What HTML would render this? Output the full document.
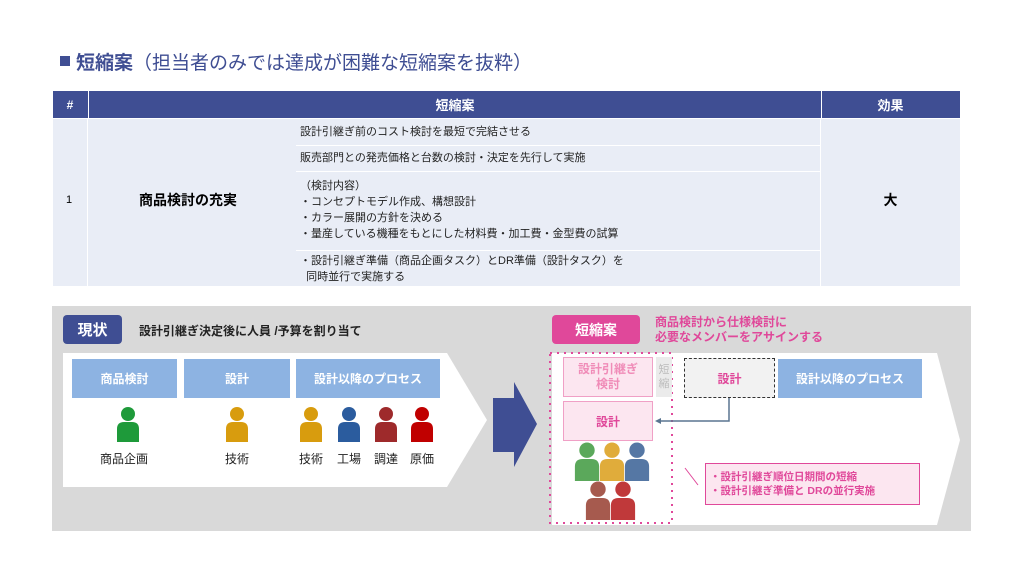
<!DOCTYPE html>
<html><head><meta charset="utf-8"><style>
body{margin:0;width:1024px;height:576px;background:#fff;position:relative;overflow:hidden;font-family:"Liberation Sans","Noto Sans CJK JP",sans-serif;}
.a{position:absolute;}
.c{display:flex;align-items:center;justify-content:center;text-align:center;}
.blue{background:#8DB3E2;color:#fff;font-weight:bold;font-size:12px;}
.lbl{font-size:12px;color:#222;}
.row{position:absolute;left:300px;font-size:11px;color:#222;line-height:16px;}
</style></head><body>
<div class="a" style="left:60px;top:56px;width:10px;height:10px;background:#3F4E93"></div>
<div class="a" style="left:76px;top:48px;font-size:19px;color:#3F4E93;white-space:nowrap"><b>短縮案</b>（担当者のみでは達成が困難な短縮案を抜粋）</div>

<div class="a" style="left:53px;top:91px;width:907px;height:27px;background:#3F4E93"></div>
<div class="a c" style="left:53px;top:91px;width:34px;height:27px;color:#fff;font-size:12px;font-weight:bold">#</div>
<div class="a c" style="left:88px;top:91px;width:732px;height:27px;color:#fff;font-size:13px;font-weight:bold;border-left:1px solid #fff;border-right:1px solid #fff">短縮案</div>
<div class="a c" style="left:821px;top:91px;width:139px;height:27px;color:#fff;font-size:13px;font-weight:bold">効果</div>
<div class="a" style="left:53px;top:119px;width:907px;height:167px;background:#E9EDF6"></div>
<div class="a" style="left:87px;top:119px;width:1px;height:167px;background:#fff"></div>
<div class="a" style="left:820px;top:119px;width:1px;height:167px;background:#fff"></div>
<div class="a" style="left:296px;top:145px;width:524px;height:1px;background:#fff"></div>
<div class="a" style="left:296px;top:171px;width:524px;height:1px;background:#fff"></div>
<div class="a" style="left:296px;top:250px;width:524px;height:1px;background:#fff"></div>
<div class="a" style="left:66px;top:194px;font-size:11px">1</div>
<div class="a c" style="left:88px;top:190px;width:200px;height:20px;font-size:14px;font-weight:bold">商品検討の充実</div>
<div class="a c" style="left:821px;top:190px;width:139px;height:20px;font-size:14px;font-weight:bold">大</div>
<div class="row" style="top:124px">設計引継ぎ前のコスト検討を最短で完結させる</div>
<div class="row" style="top:150px">販売部門との発売価格と台数の検討・決定を先行して実施</div>
<div class="row" style="top:178px">（検討内容）<br>・コンセプトモデル作成、構想設計<br>・カラー展開の方針を決める<br>・量産している機種をもとにした材料費・加工費・金型費の試算</div>
<div class="row" style="top:253px">・設計引継ぎ準備（商品企画タスク）とDR準備（設計タスク）を<br>&nbsp;&nbsp;同時並行で実施する</div>

<div class="a" style="left:52px;top:306px;width:919px;height:225px;background:#D9D9D9"></div>
<div class="a c" style="left:63px;top:315px;width:59px;height:29px;background:#3F4E93;border-radius:4px;color:#fff;font-weight:bold;font-size:15px">現状</div>
<div class="a" style="left:139px;top:322px;font-size:12px;font-weight:bold;color:#222">設計引継ぎ決定後に人員 /予算を割り当て</div>
<svg class="a" style="left:0;top:0" width="1024" height="576">
<polygon points="63,353 447,353 487,420 447,487 63,487" fill="#fff"/>
<polygon points="493,398 514,398 514,382 537,424 514,467 514,452 493,452" fill="#3F4E93"/>
<polygon points="552,353 937,353 960,440 937,525 552,525" fill="#fff"/>
<rect x="550" y="353" width="122" height="170" fill="none" stroke="#E0489A" stroke-width="2" stroke-dasharray="2,5"/>
<polyline points="729,398 729,421 658,421" fill="none" stroke="#5A7590" stroke-width="1.5"/>
<polygon points="655,421 661,418 661,424" fill="#5A7590"/>
<line x1="685" y1="468" x2="698" y2="485" stroke="#E0489A" stroke-width="1"/>
</svg>
<div class="a c blue" style="left:72px;top:359px;width:105px;height:39px">商品検討</div>
<div class="a c blue" style="left:184px;top:359px;width:106px;height:39px">設計</div>
<div class="a c blue" style="left:296px;top:359px;width:144px;height:39px">設計以降のプロセス</div>

<svg class="a" style="left:0;top:0" width="1024" height="576">
<defs><g id="pp"><circle cx="0" cy="-8" r="7"/><path d="M-11,20 L-11,7 Q-11,0 -4,0 L4,0 Q11,0 11,7 L11,20 Z"/></g></defs>
<use href="#pp" x="128" y="422" fill="#1E9A3A"/>
<use href="#pp" x="237" y="422" fill="#D89C0E"/>
<use href="#pp" x="311" y="422" fill="#D89C0E"/>
<use href="#pp" x="349" y="422" fill="#2B5C9E"/>
<use href="#pp" x="386" y="422" fill="#9E2A2B"/>
<use href="#pp" x="422" y="422" fill="#C00000"/>
<g transform="translate(587,459) scale(1.1)"><use href="#pp" fill="#5BA85B"/></g>
<g transform="translate(612,459) scale(1.1)"><use href="#pp" fill="#E0AC3B"/></g>
<g transform="translate(637,459) scale(1.1)"><use href="#pp" fill="#5577A4"/></g>
<g transform="translate(598,498) scale(1.1)"><use href="#pp" fill="#A65A4E"/></g>
<g transform="translate(623,498) scale(1.1)"><use href="#pp" fill="#C0393A"/></g>
</svg>
<div class="a lbl" style="left:100px;top:450px">商品企画</div>
<div class="a lbl" style="left:225px;top:450px">技術</div>
<div class="a lbl" style="left:299px;top:450px">技術</div>
<div class="a lbl" style="left:337px;top:450px">工場</div>
<div class="a lbl" style="left:374px;top:450px">調達</div>
<div class="a lbl" style="left:410px;top:450px">原価</div>

<div class="a c" style="left:552px;top:315px;width:88px;height:29px;background:#E0489A;border-radius:4px;color:#fff;font-weight:bold;font-size:14px">短縮案</div>
<div class="a" style="left:655px;top:315px;font-size:12px;font-weight:bold;color:#E0489A;line-height:15px">商品検討から仕様検討に<br>必要なメンバーをアサインする</div>
<div class="a c" style="left:563px;top:357px;width:88px;height:38px;background:#FCE6F0;border:1px solid #F0A0C6;color:#F08CB8;font-weight:bold;font-size:12px;line-height:15px">設計引継ぎ<br>検討</div>
<div class="a c" style="left:656px;top:357px;width:16px;height:40px;background:#EBEBEB;color:#BBB;font-size:11px;line-height:14px">短<br>縮</div>
<div class="a c" style="left:684px;top:358px;width:89px;height:38px;background:#F2F2F2;border:1.5px dashed #333;color:#E0489A;font-weight:bold;font-size:12px">設計</div>
<div class="a c blue" style="left:778px;top:359px;width:144px;height:39px">設計以降のプロセス</div>
<div class="a c" style="left:563px;top:401px;width:88px;height:38px;background:#FCE6F0;border:1px solid #F0A0C6;color:#E0489A;font-weight:bold;font-size:12px">設計</div>
<div class="a" style="left:705px;top:463px;width:215px;height:42px;background:#FCE6F0;border:1px solid #E0489A;box-sizing:border-box;padding:6px 0 0 4px;color:#E0489A;font-weight:bold;font-size:10.5px;line-height:14px">・設計引継ぎ順位日期間の短縮<br>・設計引継ぎ準備と DRの並行実施</div>
</body></html>
